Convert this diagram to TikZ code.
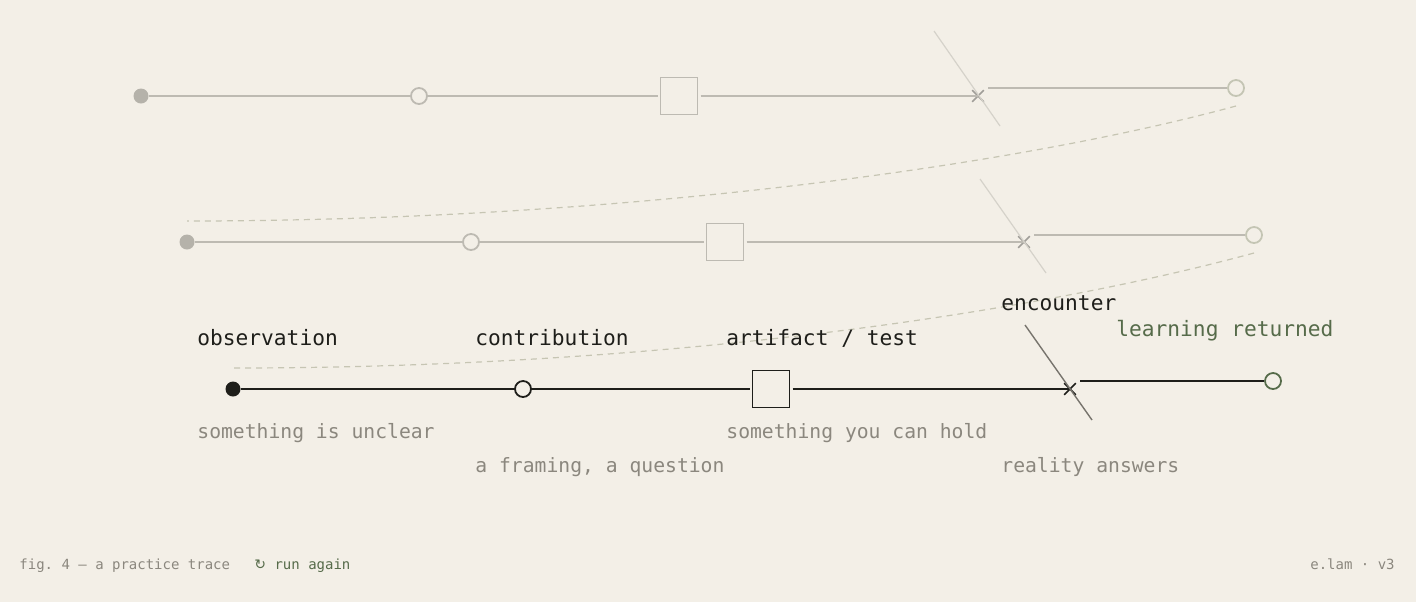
\documentclass[tikz,border=0pt]{standalone}
\usepackage{fontspec}
\setmonofont{DejaVu Sans Mono}
\newfontfamily\symfont{DejaVu Sans}
\usetikzlibrary{shapes.misc}
\definecolor{paper}{HTML}{F3EFE7}
\definecolor{ink}{HTML}{1E1E1A}
\definecolor{note}{HTML}{8B877E}
\definecolor{moss}{HTML}{566B4A}
\definecolor{ghost}{HTML}{BDBAB2}
\definecolor{ghostdot}{HTML}{B5B2AA}
\definecolor{ghostslash}{HTML}{D5D2CA}
\definecolor{ghostring}{HTML}{C4C5B4}
\definecolor{trail}{HTML}{C6C5B3}
\definecolor{slash}{HTML}{77746D}

\begin{document}
\begin{tikzpicture}[x=0.5pt,y=-0.5pt,
  dot/.style={circle,fill,inner sep=0pt,minimum size=7.5pt},
  ring/.style={circle,draw,line width=0.9pt,fill=paper,inner sep=0pt,minimum size=8pt},
  box/.style={rectangle,draw,line width=0.9pt,inner sep=0pt,minimum size=18.5pt,outer sep=1.5pt},
  hit/.style={cross out,draw,line width=0.8pt,inner sep=0pt,minimum size=5pt},
  wire/.style={line width=0.8pt},
  lbl/.style={anchor=base west,inner sep=0pt,text=ink,font=\ttfamily\fontsize{10.6}{12}\selectfont},
  sub/.style={anchor=base west,inner sep=0pt,text=note,font=\ttfamily\fontsize{9.85}{12}\selectfont},
  foot/.style={inner sep=0pt,text=note,font=\ttfamily\fontsize{7}{9}\selectfont},
  trailline/.style={trail,line width=0.6pt,dash pattern=on 3pt off 2.5pt}]
\fill[paper] (0,0) rectangle (1416,602);
\useasboundingbox (0,0) rectangle (1416,602);

% first pass, faded
\begin{scope}[ghost]
\node[dot,fill=ghostdot] (obsA) at (141,96) {};
\node[ring] (conA) at (419,96) {};
\node[box] (artA) at (679,96) {};
\node[hit,draw=slash!70] (encA) at (978,96) {};
\coordinate (slashAt) at (934,31);
\coordinate (slashAb) at (1000,126);
\coordinate (retAs) at (988,88);
\node[ring,draw=ghostring] (retA) at (1236,88) {};
\draw[wire] (obsA) -- (conA) -- (artA);
\draw[wire] (artA) -- (encA.center);
\draw[ghostslash,line width=0.6pt] (slashAt) -- (slashAb);
\draw[wire] (retAs) -- (retA);
\end{scope}

% second pass, faded
\begin{scope}[ghost]
\node[dot,fill=ghostdot] (obsB) at (187,242) {};
\node[ring] (conB) at (471,242) {};
\node[box] (artB) at (725,242) {};
\node[hit,draw=slash!70] (encB) at (1024,242) {};
\coordinate (slashBt) at (980,179);
\coordinate (slashBb) at (1046,273);
\coordinate (retBs) at (1034,235);
\node[ring,draw=ghostring] (retB) at (1254,235) {};
\draw[wire] (obsB) -- (conB) -- (artB);
\draw[wire] (artB) -- (encB.center);
\draw[ghostslash,line width=0.6pt] (slashBt) -- (slashBb);
\draw[wire] (retBs) -- (retB);
\end{scope}

% loops back
\coordinate (loopAs) at (1236,106);
\coordinate (loopAe) at (187,221);
\coordinate (loopBs) at (1254,253);
\coordinate (loopBe) at (233,368);
\draw[trailline] (loopAs) .. controls (1000,170) and (600,221) .. (loopAe);
\draw[trailline] (loopBs) .. controls (1018,317) and (646,368) .. (loopBe);

% current pass
\node[dot,ink] (obs) at (233,389) {};
\node[ring,draw=ink] (con) at (523,389) {};
\node[box,draw=ink] (art) at (771,389) {};
\node[hit,draw=ink] (enc) at (1070,389) {};
\coordinate (slasht) at (1025,325);
\coordinate (slashb) at (1092,420);
\coordinate (rets) at (1080,381);
\node[ring,draw=moss] (ret) at (1273,381) {};
\draw[wire,ink] (obs) -- (con) -- (art);
\draw[wire,ink] (art) -- (enc.center);
\draw[slash,line width=0.7pt] (slasht) -- (slashb);
\draw[wire,ink] (rets) -- (ret);

\node[lbl] (obsl) at (197,345) {observation};
\node[lbl] (conl) at (475,345) {contribution};
\node[lbl] (artl) at (726,345) {artifact / test};
\node[lbl] (encl) at (1001,310) {encounter};
\node[lbl,text=moss] (retl) at (1116,336) {learning returned};

\node[sub] (obss) at (197,438) {something is unclear};
\node[sub] (cons) at (475,472) {a framing, a question};
\node[sub] (arts) at (726,438) {something you can hold};
\node[sub] (encs) at (1001,472) {reality answers};

\node[foot,anchor=base west] (cap) at (19,569) {fig. 4 — a practice trace};
\node[foot,anchor=base west,text=moss] (again) at (254,569) {{\symfont\fontsize{7}{9}\selectfont ↻} run again};
\node[foot,anchor=base east] (sig) at (1395,569) {e.lam · v3};
\end{tikzpicture}
\end{document}
